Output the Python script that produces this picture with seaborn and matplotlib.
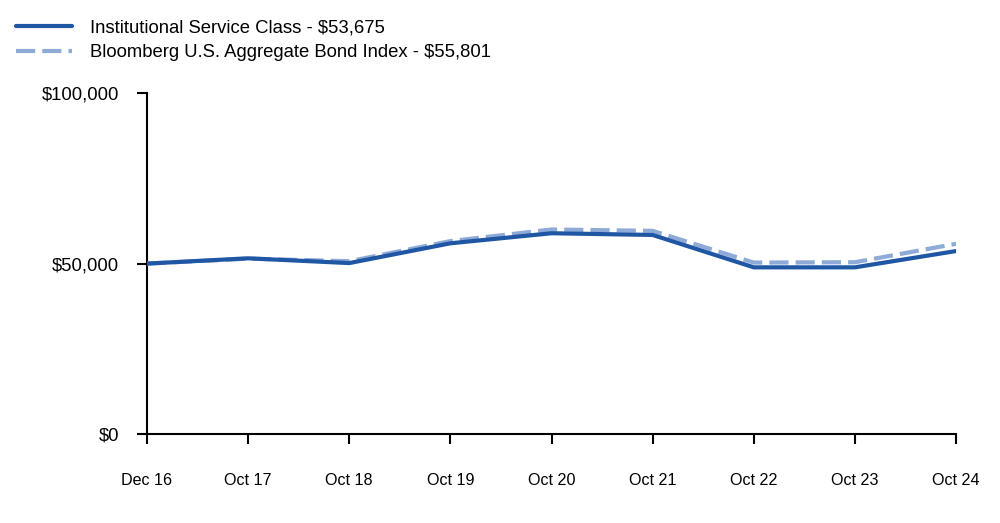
import matplotlib
matplotlib.use("Agg")
import matplotlib.pyplot as plt
import seaborn as sns
import pandas as pd
from matplotlib.ticker import FuncFormatter

dates = ["Dec 16", "Oct 17", "Oct 18", "Oct 19", "Oct 20", "Oct 21", "Oct 22", "Oct 23", "Oct 24"]
institutional = [50000, 51550, 50150, 55950, 58900, 58400, 48900, 48900, 53675]
bloomberg = [50000, 51450, 50700, 56600, 60000, 59600, 50300, 50400, 55801]
series_names = ["Institutional Service Class - $53,675", "Bloomberg U.S. Aggregate Bond Index - $55,801"]

df = pd.DataFrame({
    "x": list(range(len(dates))) * 2,
    "value": institutional + bloomberg,
    "series": [series_names[0]] * len(dates) + [series_names[1]] * len(dates),
})

sns.set_style("ticks")
plt.rcParams["font.family"] = ["Liberation Sans", "DejaVu Sans"]
plt.rcParams["text.color"] = "black"
plt.rcParams["xtick.color"] = "black"
plt.rcParams["ytick.color"] = "black"

fig = plt.figure(figsize=(10, 5.23), dpi=100)
ax = fig.add_axes([0.147, 0.170, 0.809, 0.652])

palette = {series_names[0]: "#1f57a5", series_names[1]: "#8eaad6"}
sns.lineplot(data=df, x="x", y="value", hue="series", style="series",
             palette=palette, dashes={series_names[0]: "", series_names[1]: (4.6, 1.7)},
             linewidth=3, ax=ax, legend=True)

# solid fund line drawn above the dashed index line
for ln in ax.get_lines():
    if ln.get_linestyle() == "-":
        ln.set_zorder(4)
    else:
        ln.set_zorder(3)

ax.set_xlim(0, len(dates) - 1)
ax.set_ylim(0, 100000)
ax.set_xticks(range(len(dates)))
ax.set_xticklabels(dates)
ax.set_yticks([0, 50000, 100000])
ax.yaxis.set_major_formatter(FuncFormatter(lambda v, p: "${:,.0f}".format(v)))
ax.set_xlabel("")
ax.set_ylabel("")
for s in ["top", "right"]:
    ax.spines[s].set_visible(False)
for s in ["left", "bottom"]:
    ax.spines[s].set_linewidth(1.5)
    ax.spines[s].set_color("black")
ax.spines["bottom"].set_bounds(0, len(dates) - 1)
ax.tick_params(axis="y", labelsize=13.3, length=7, width=1.5, color="black",
               labelcolor="black", pad=13)
ax.tick_params(axis="x", labelsize=11.6, length=7, width=1.5, color="black",
               labelcolor="black", pad=21)

handles, labels = ax.get_legend_handles_labels()
ax.get_legend().remove()
leg = fig.legend(handles, labels, loc="upper left", bbox_to_anchor=(-0.001, 0.995),
                 frameon=False, fontsize=13.3, handlelength=3.05, handletextpad=1.0,
                 labelspacing=0.42)
for t in leg.get_texts():
    t.set_color("black")

fig.savefig("out.png", dpi=100)
